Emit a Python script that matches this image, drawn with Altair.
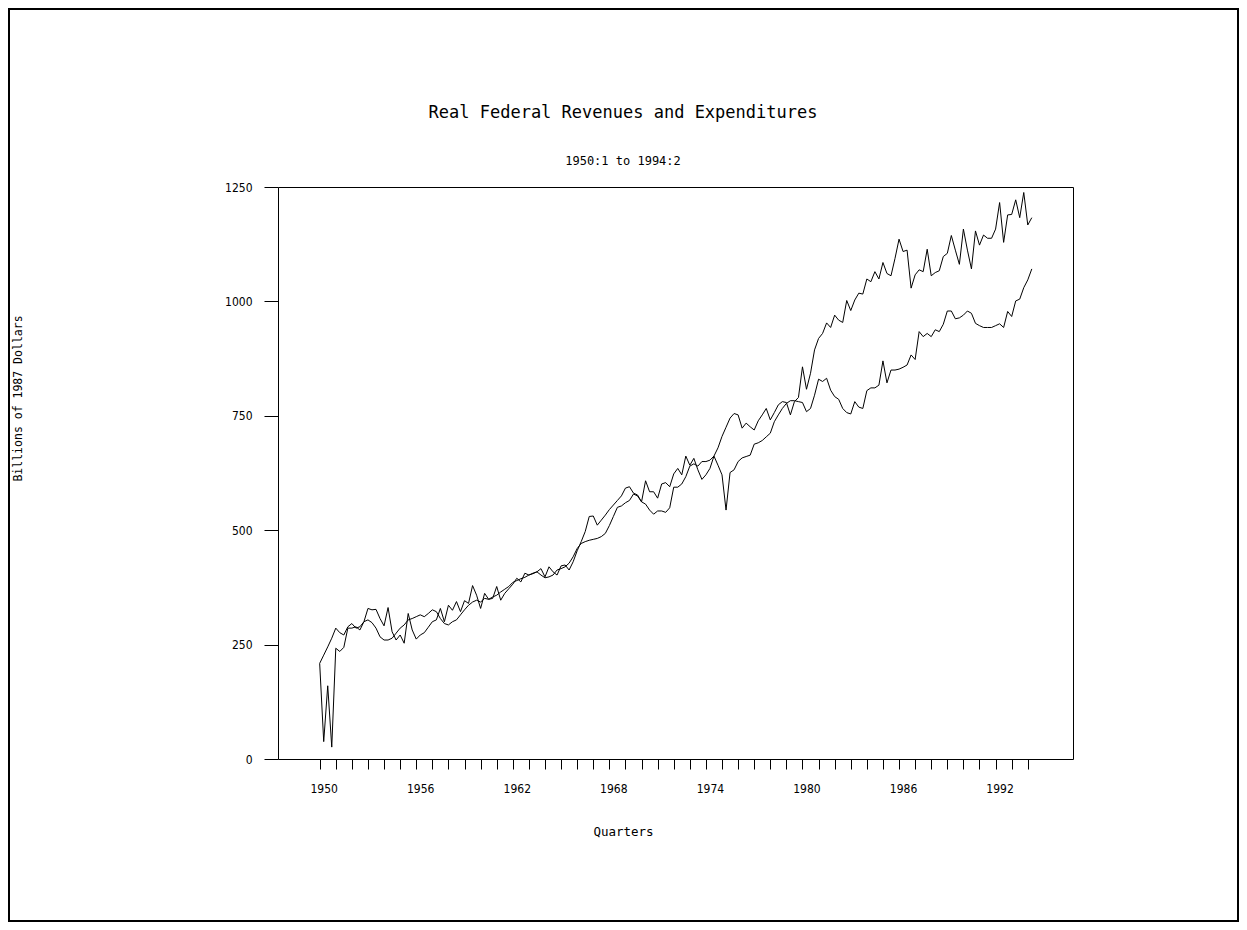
import altair as alt
import pandas as pd

# Quarterly observations, 1950:1 .. 1994:2 (178 quarters), billions of 1987 dollars
REVENUES = [
    209, 38, 160, 26, 242, 235, 244, 286, 286, 289, 282, 300, 329, 326, 327, 307,
    291, 331, 278, 260, 271, 253, 318, 282, 262, 271, 276, 288, 300, 304, 329, 300,
    336, 325, 344, 322, 346, 340, 379, 358, 329, 362, 349, 351, 377, 347, 362, 372,
    382, 395, 387, 406, 402, 405, 409, 416, 398, 420, 409, 402, 422, 424, 413, 431,
    455, 475, 497, 530, 531, 511, 522, 533, 545, 555, 565, 575, 592, 595, 581, 577,
    562, 608, 584, 584, 570, 601, 604, 595, 623, 635, 621, 662, 642, 657, 632, 611,
    621, 635, 662, 642, 621, 544, 626, 632, 650, 658, 661, 664, 688, 691, 696, 704,
    712, 737, 752, 766, 777, 783, 783, 781, 779, 759, 766, 795, 830, 825, 832, 806,
    792, 786, 766, 757, 754, 781, 769, 766, 805, 811, 811, 817, 870, 822, 850, 850,
    852, 856, 861, 883, 873, 934, 923, 930, 923, 938, 934, 950, 979, 979, 962, 964,
    970, 979, 974, 952, 947, 943, 943, 943, 947, 951, 943, 978, 967, 1001, 1005, 1030,
    1047, 1071,
]
EXPENDITURES = [
    209, 227, 245, 264, 286, 276, 271, 289, 296, 286, 289, 300, 304, 298, 286, 267,
    260, 260, 264, 275, 286, 293, 304, 307, 311, 315, 311, 318, 326, 322, 307, 296,
    293, 300, 304, 315, 326, 336, 343, 347, 343, 351, 349, 354, 358, 365, 371, 377,
    386, 390, 394, 397, 402, 406, 409, 402, 396, 398, 402, 413, 416, 420, 428, 442,
    460, 471, 475, 478, 480, 482, 486, 493, 510, 530, 550, 553, 560, 565, 579, 575,
    562, 557, 544, 535, 542, 542, 539, 549, 594, 594, 601, 617, 640, 645, 640, 650,
    650, 653, 662, 680, 705, 725, 745, 755, 752, 723, 734, 726, 719, 739, 752, 766,
    741, 757, 774, 781, 779, 752, 781, 790, 857, 808, 843, 894, 919, 930, 953, 943,
    970, 959, 954, 1002, 980, 1003, 1018, 1016, 1049, 1043, 1065, 1049, 1085, 1061, 1056, 1094,
    1136, 1109, 1112, 1029, 1058, 1069, 1065, 1114, 1056, 1063, 1067, 1098, 1105, 1144, 1112, 1081,
    1158, 1112, 1071, 1154, 1123, 1145, 1138, 1138, 1158, 1216, 1129, 1189, 1190, 1222, 1183, 1238,
    1167, 1183,
]
START_YEAR = 1950
Y_TICKS = [0, 250, 500, 750, 1000, 1250]
X_TICKS = list(range(1950, 1995))
TITLE = "Real Federal Revenues and Expenditures"
SUBTITLE = "1950:1 to 1994:2"

rows = []
for name, vals in (("Revenues", REVENUES), ("Expenditures", EXPENDITURES)):
    for i, v in enumerate(vals):
        rows.append({"t": START_YEAR + i / 4.0, "value": v, "series": name})
df = pd.DataFrame(rows)

MONO = "DejaVu Sans Mono"
NARROW = "Liberation Sans Narrow, DejaVu Sans Condensed, sans-serif"

W, H = 795, 572
PAD_L, PAD_T, PAD_R, PAD_B = 270, 179, 166, 163
CENTER_X = 623 - 8 - PAD_L  # page centre, relative to the plot area

lines = alt.Chart(df).mark_line(color="black", strokeWidth=1).encode(
    x=alt.X(
        "t:Q",
        scale=alt.Scale(domain=[1947.41, 1996.81], nice=False, zero=False),
        axis=alt.Axis(
            values=X_TICKS,
            format="d",
            labelExpr="(datum.value - 1950) % 6 == 0 ? datum.label : ''",
            grid=False,
            domain=False,
            ticks=True,
            tickSize=10,
            tickColor="black",
            tickWidth=1,
            labelColor="black",
            labelFont=NARROW,
            labelFontSize=12,
            labelPadding=14,
            labelOffset=4,
            labelFlush=False,
            labelOverlap=False,
            title="Quarters",
            titleFont=MONO,
            titleFontSize=12.5,
            titleFontWeight="normal",
            titleColor="black",
            titleX=CENTER_X,
            titleY=76,
            titleBaseline="alphabetic",
        ),
    ),
    y=alt.Y(
        "value:Q",
        scale=alt.Scale(domain=[0, 1250], nice=False),
        axis=alt.Axis(
            values=Y_TICKS,
            format="d",
            grid=False,
            domain=False,
            tickSize=14,
            tickColor="black",
            tickWidth=1,
            labelColor="black",
            labelFont=NARROW,
            labelFontSize=12,
            labelPadding=12,
            labelFlush=False,
            labelOverlap=False,
            title="Billions of 1987 Dollars",
            titleFont=MONO,
            titleFontSize=11.5,
            titleFontWeight="normal",
            titleColor="black",
            titleAngle=270,
            titleX=-260,
            titleY=211,
            titleAlign="center",
            titleBaseline="middle",
        ),
    ),
    detail="series:N",
)

one = pd.DataFrame({"a": [0]})

border = alt.Chart(one).mark_rect(
    fillOpacity=0, stroke="black", strokeWidth=2, clip=False
).encode(
    x=alt.value(-PAD_L + 1),
    x2=alt.value(W + PAD_R - 1),
    y=alt.value(-PAD_T + 1),
    y2=alt.value(H + PAD_B - 1),
)

title = alt.Chart(one).mark_text(
    text=TITLE, font=MONO, fontSize=17, color="black", align="center",
    baseline="alphabetic", clip=False,
).encode(x=alt.value(CENTER_X), y=alt.value(118 - 187))

subtitle = alt.Chart(one).mark_text(
    text=SUBTITLE, font=MONO, fontSize=12, color="black", align="center",
    baseline="alphabetic", clip=False,
).encode(x=alt.value(CENTER_X), y=alt.value(165 - 187))

chart = alt.layer(lines, border, title, subtitle).properties(
    width=W,
    height=H,
    padding={"left": PAD_L, "top": PAD_T, "right": PAD_R, "bottom": PAD_B},
    autosize=alt.AutoSizeParams(type="none"),
    background="white",
).configure_view(stroke="black", strokeWidth=1)

chart.save("out.html", embed_options={"renderer": "svg", "actions": False})
